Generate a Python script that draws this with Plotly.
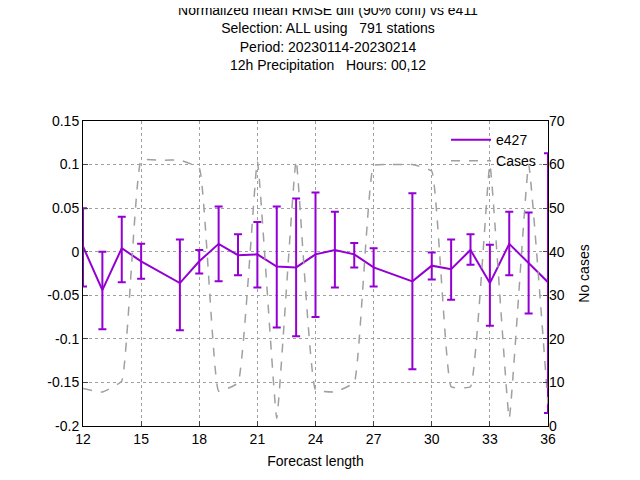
import plotly.graph_objects as go

hours = [12, 13, 14, 15, 17, 18, 19, 20, 21, 22, 23, 24, 25, 26, 27, 29, 30, 31, 32, 33, 34, 35, 36]
e427 = [0.006, -0.044, 0.004, -0.011, -0.036, -0.011, 0.009, -0.004, -0.003, -0.017, -0.018, -0.003,
        0.002, -0.003, -0.018, -0.034, -0.016, -0.020, 0.002, -0.036, 0.009, -0.013, -0.035]
e427_hi = [0.050, 0.000, 0.040, 0.009, 0.014, 0.002, 0.052, 0.020, 0.034, 0.052, 0.061, 0.068,
           0.046, 0.010, 0.004, 0.067, -0.001, 0.014, 0.020, 0.008, 0.046, 0.045, 0.113]
e427_lo = [-0.040, -0.089, -0.035, -0.031, -0.090, -0.025, -0.034, -0.027, -0.041, -0.087, -0.097, -0.075,
           -0.041, -0.018, -0.040, -0.135, -0.032, -0.055, -0.015, -0.085, -0.027, -0.071, -0.185]

case_hours = list(range(12, 37))
cases = [8.6, 7.8, 10.3, 61, 61, 61, 59.2, 8, 9.9, 60.8, 1.8, 61, 8.3, 7.8, 10, 59.8, 60, 60, 58.5,
         9, 9, 60, 1.8, 60, 5]

purple = '#9400d3'
grid = dict(showgrid=True, gridcolor='#a0a0a0', griddash='dot', showline=True, linecolor='black',
            mirror=True, ticks='inside', zeroline=False, automargin=False)
fig = go.Figure()

fig.add_trace(go.Scatter(
    x=case_hours, y=cases, name='Cases', yaxis='y2', mode='lines',
    line=dict(color='#a0a0a0', dash='dash', width=1.5, shape='spline', smoothing=0.3),
))
fig.add_trace(go.Scatter(
    x=hours, y=e427, name='e427', mode='lines',
    line=dict(color=purple, width=2),
    error_y=dict(type='data', symmetric=False,
                 array=[h - v for h, v in zip(e427_hi, e427)],
                 arrayminus=[v - l for v, l in zip(e427, e427_lo)],
                 color=purple, thickness=2, width=4),
))

fig.update_layout(
    width=640, height=480,
    plot_bgcolor='white', paper_bgcolor='white',
    font=dict(family='Liberation Sans, Arial', size=14, color='black'),
    margin=dict(l=75, r=100, t=113, b=62, autoexpand=False),
    title=dict(
        text='Normalized mean RMSE diff (90% conf) vs e411<br>Selection: ALL using   791 stations'
             '<br>Period: 20230114-20230214<br>12h Precipitation   Hours: 00,12',
        x=0.5, xanchor='center', y=0.985, yanchor='top', font=dict(size=14)),
    xaxis=dict(range=[12, 36], tickvals=list(range(12, 37, 3)),
               title=dict(text='Forecast length', standoff=10, font=dict(size=14)), **grid),
    yaxis=dict(range=[-0.2, 0.15], tickvals=[-0.2, -0.15, -0.1, -0.05, 0, 0.05, 0.1, 0.15],
               ticktext=['-0.2', '-0.15', '-0.1', '-0.05', '0', '0.05', '0.1', '0.15'], **grid),
    yaxis2=dict(range=[0, 70], dtick=10, overlaying='y', side='right',
                title=dict(text='No cases', font=dict(size=14)),
                showgrid=False, ticks='inside', zeroline=False, automargin=False),
    legend=dict(x=0.985, y=0.99, xanchor='right', yanchor='top', bgcolor='rgba(0,0,0,0)',
                traceorder='reversed', font=dict(size=14), itemwidth=40),
)

fig.write_html('out.html')
